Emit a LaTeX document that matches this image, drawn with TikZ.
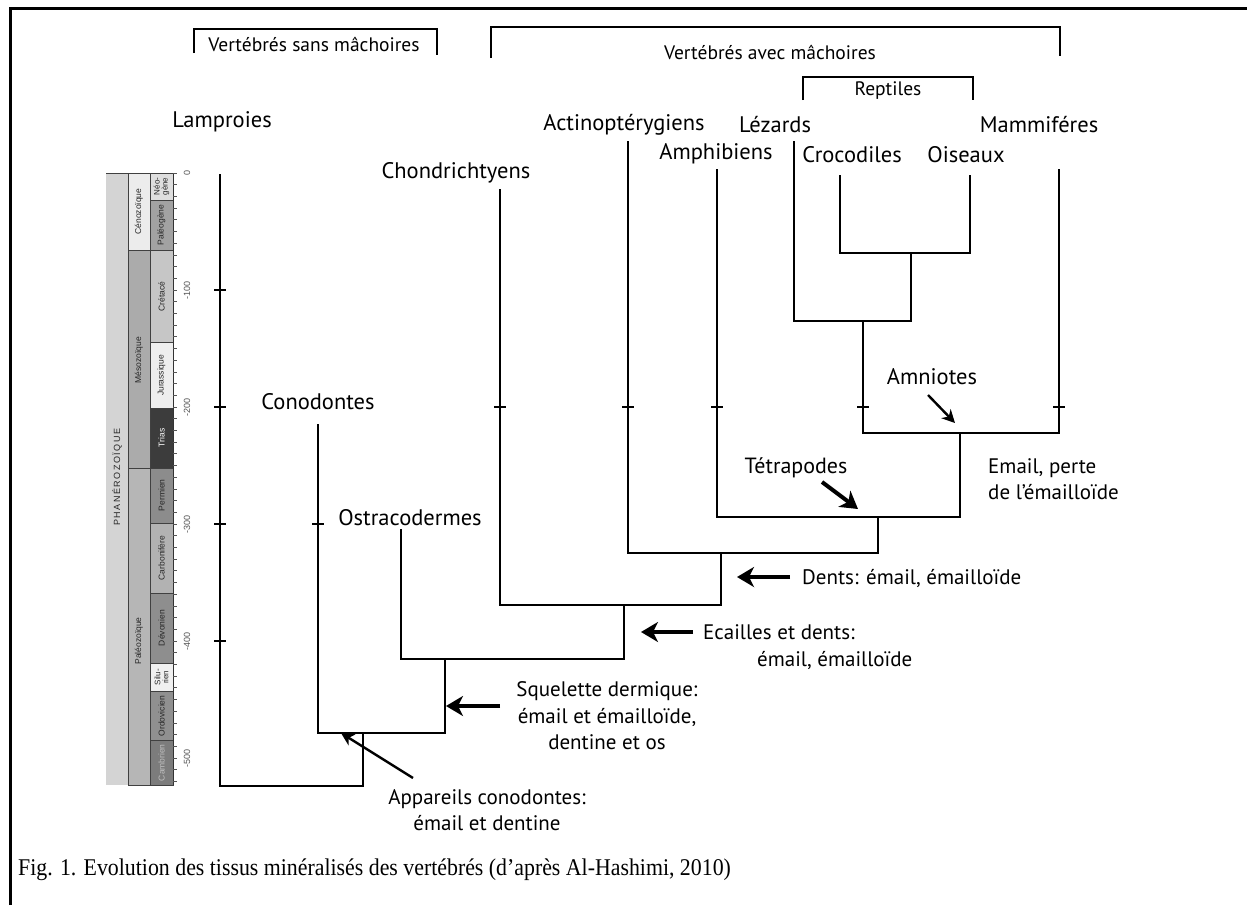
\documentclass[tikz,border=0pt]{standalone}
\usepackage{fontspec}
\setmainfont{PT Sans}
\newfontfamily\capfont{Liberation Serif}
\newfontfamily\smallsans{Liberation Sans}
\usetikzlibrary{arrows.meta}

\definecolor{cPhan}{HTML}{D4D4D4}
\definecolor{cCeno}{HTML}{ECECEC}
\definecolor{cMeso}{HTML}{ABABAB}
\definecolor{cPaleo}{HTML}{B6B6B6}
\definecolor{cNeo}{HTML}{DEDEDE}
\definecolor{cPaleog}{HTML}{A2A2A2}
\definecolor{cCret}{HTML}{C6C6C6}
\definecolor{cJura}{HTML}{EEEEEE}
\definecolor{cTrias}{HTML}{3C3C3C}
\definecolor{cPerm}{HTML}{8C8C8C}
\definecolor{cCarb}{HTML}{B2B2B2}
\definecolor{cDevo}{HTML}{8E8E8E}
\definecolor{cSilu}{HTML}{F0F0F0}
\definecolor{cOrdo}{HTML}{909090}
\definecolor{cCamb}{HTML}{7C7C7C}
\definecolor{cAxis}{HTML}{555555}

\begin{document}
\begin{tikzpicture}[x=1pt,y=-1pt,
  branch/.style={line width=1.6pt,line cap=rect,line join=miter},
  agetick/.style={line width=1.4pt},
  bracketline/.style={line width=2.2pt},
  taxon/.style={font=\fontsize{22.5}{24}\selectfont,inner sep=0pt},
  note/.style={font=\fontsize{21}{26.5}\selectfont,inner sep=0pt},
  grouplabel/.style={font=\fontsize{19.5}{22}\selectfont,inner sep=0pt,anchor=base},
  bigarrow/.style={line width=4pt,-{Stealth[length=17pt,width=20pt,inset=5pt]}},
  smallarrow/.style={line width=2.4pt,-{Stealth[length=13pt,width=13pt,inset=4pt]}},
  cell/.style={draw=black!75,line width=0.6pt},
  celltext/.style={font=\smallsans\fontsize{8.5}{9}\selectfont,rotate=90,inner sep=0pt,text=black!85,align=center},
  scalelabel/.style={font=\smallsans\fontsize{9}{10}\selectfont,rotate=90,inner sep=0pt,text=cAxis}]

\useasboundingbox (0,0) rectangle (1247,905);
\fill[white] (0,0) rectangle (1247,905);

% frame
\draw[line width=3pt] (10,905) -- (10,8) -- (1247,8);

% ---------- geological time scale (Ma along the axis) ----------
\begin{scope}[shift={(0,173)},y=-1.17pt]
  \fill[cPhan] (106,0) rectangle (128,523);
  \draw[line width=0.6pt,black!75] (106,0) -- (128,0);
  % eras
  \draw[cell,fill=cCeno]  (128,0)   rectangle (150,66);
  \draw[cell,fill=cMeso]  (128,66)  rectangle (150,252);
  \draw[cell,fill=cPaleo] (128,252) rectangle (150,523);
  % periods
  \draw[cell,fill=cNeo]    (150,0)   rectangle (173,23);
  \draw[cell,fill=cPaleog] (150,23)  rectangle (173,66);
  \draw[cell,fill=cCret]   (150,66)  rectangle (173,145);
  \draw[cell,fill=cJura]   (150,145) rectangle (173,201);
  \draw[cell,fill=cTrias]  (150,201) rectangle (173,252);
  \draw[cell,fill=cPerm]   (150,252) rectangle (173,299);
  \draw[cell,fill=cCarb]   (150,299) rectangle (173,359);
  \draw[cell,fill=cDevo]   (150,359) rectangle (173,419);
  \draw[cell,fill=cSilu]   (150,419) rectangle (173,443);
  \draw[cell,fill=cOrdo]   (150,443) rectangle (173,485);
  \draw[cell,fill=cCamb]   (150,485) rectangle (173,523);
  % texts
  \node[celltext,font=\smallsans\fontsize{9}{10}\selectfont] (phan) at (117,260) {P\,H\,A\,N\,É\,R\,O\,Z\,O\,Ï\,Q\,U\,E};
  \node[celltext] (ceno) at (139,33) {Cénozoïque};
  \node[celltext] (meso) at (139,160) {Mésozoïque};
  \node[celltext] (paleo) at (139,400) {Paléozoïque};
  \node[celltext,font=\smallsans\fontsize{8}{8}\selectfont] (neo) at (161.5,11.5) {Néo-\\gène};
  \node[celltext] (paleog) at (161.5,44.5) {Paléogène};
  \node[celltext] (cret) at (161.5,105.5) {Crétacé};
  \node[celltext] (jura) at (161.5,173) {Jurassique};
  \node[celltext,text=white] (trias) at (161.5,226.5) {Trias};
  \node[celltext] (perm) at (161.5,275.5) {Permien};
  \node[celltext] (carb) at (161.5,329) {Carbonifère};
  \node[celltext] (devo) at (161.5,389) {Dévonien};
  \node[celltext,font=\smallsans\fontsize{8}{8}\selectfont] (silu) at (161.5,431) {Silu-\\rien};
  \node[celltext] (ordo) at (161.5,464) {Ordovicien};
  \node[celltext,text=black!25] (camb) at (161.5,504) {Cambrien};
  % axis with ticks every 10 Ma
  \draw[line width=0.8pt,black!80] (173,0) -- (173,523);
  \foreach \t in {0,10,...,520} \draw[line width=0.7pt,cAxis] (173,\t) -- (177,\t);
  \foreach \t in {0,100,...,500} \node[scalelabel] (age\t) at (187,\t) {\ifnum\t=0 0\else -\t\fi};
\end{scope}

% ---------- group brackets ----------
\draw[bracketline] (194,53) -- (194,29) -- (437,29) -- (437,55);
\node[grouplabel] (sans) at (314,51) {Vertébrés sans mâchoires};
\draw[bracketline] (491,58) -- (491,27) -- (1060,27) -- (1060,56);
\node[grouplabel] (avec) at (770,59) {Vertébrés avec mâchoires};
\draw[bracketline] (803,100) -- (803,77) -- (973,77) -- (973,100);
\node[grouplabel] (rept) at (888,95) {Reptiles};

% ---------- taxa ----------
\node[taxon] (lamp)  at (222,122) {Lamproies};
\node[taxon] (acti)  at (624,125) {Actinoptérygiens};
\node[taxon] (leza)  at (775,125) {Lézards};
\node[taxon] (mamm)  at (1039,125) {Mammiféres};
\node[taxon] (amph)  at (716,154) {Amphibiens};
\node[taxon] (croc)  at (852,155) {Crocodiles};
\node[taxon] (oise)  at (966,155) {Oiseaux};
\node[taxon] (chon)  at (456,173) {Chondrichtyens};
\node[taxon] (cono)  at (318,402) {Conodontes};
\node[taxon] (ostr)  at (410,518) {Ostracodermes};

% branch tips
\coordinate (tLamp) at (220,175);
\coordinate (tCono) at (318,425);
\coordinate (tOstr) at (401,530);
\coordinate (tChon) at (500,190);
\coordinate (tActi) at (628,142);
\coordinate (tAmph) at (717,170);
\coordinate (tLeza) at (794,142);
\coordinate (tCroc) at (840,176);
\coordinate (tOise) at (970,176);
\coordinate (tMamm) at (1059,170);

% branching points
\coordinate (n1) at (911,253);
\coordinate (n2) at (863,321);
\coordinate (n3) at (960,433);
\coordinate (n4) at (878,517);
\coordinate (n5) at (721,553);
\coordinate (n6) at (624,605);
\coordinate (n7) at (445,659);
\coordinate (n8) at (363,733);
\coordinate (root) at (363,786);

% ---------- tree ----------
\draw[branch] (tCroc) |- (n1);
\draw[branch] (tOise) |- (n1);
\draw[branch] (n1) |- (n2);
\draw[branch] (tLeza) |- (n2);
\draw[branch] (n2) |- (n3);
\draw[branch] (tMamm) |- (n3);
\draw[branch] (n3) |- (n4);
\draw[branch] (tAmph) |- (n4);
\draw[branch] (n4) |- (n5);
\draw[branch] (tActi) |- (n5);
\draw[branch] (n5) |- (n6);
\draw[branch] (tChon) |- (n6);
\draw[branch] (n6) |- (n7);
\draw[branch] (tOstr) |- (n7);
\draw[branch] (n7) |- (n8);
\draw[branch] (tCono) |- (n8);
\draw[branch] (n8) -- (root);
\draw[branch] (tLamp) |- (root);

% age ticks on the branches
\foreach \x in {220,500,628,717,863,1059} \draw[agetick] (\x-6,407) -- (\x+6,407);
\draw[agetick] (214,290) -- (226,290);
\draw[agetick] (214,524) -- (226,524);
\draw[agetick] (312,524) -- (324,524);
\draw[agetick] (214,641) -- (226,641);

% ---------- annotations ----------
\node[note,font=\fontsize{22.5}{26}\selectfont] (amni) at (932,377) {Amniotes};
\coordinate (amniTip) at (955,423);
\draw[smallarrow] (928,395) -- (amniTip);

\node[note,font=\fontsize{22}{26}\selectfont] (tetr) at (796,468) {Tétrapodes};
\coordinate (tetrTip) at (858,509);
\draw[bigarrow] (822,482) -- (tetrTip);

\node[note,anchor=west,align=left] (emai) at (988,479) {Email, perte\\de l’émailloïde};

\node[note,anchor=west] (dent) at (802,578) {Dents: émail, émailloïde};
\coordinate (dentTip) at (737,577);
\draw[bigarrow] (790,577) -- (dentTip);

\node[note,anchor=west] (ecai) at (703,632) {Ecailles et dents:};
\node[note,anchor=west] (ecai2) at (757,660) {émail, émailloïde};
\coordinate (ecaiTip) at (641,632);
\draw[bigarrow] (693,632) -- (ecaiTip);

\node[note,align=center] (sque) at (607,716) {Squelette dermique:\\émail et émailloïde,\\dentine et os};
\coordinate (squeTip) at (446,706);
\draw[bigarrow] (500,706) -- (squeTip);

\node[note,align=center] (appa) at (487,810) {Appareils conodontes:\\émail et dentine};
\coordinate (appaTip) at (341,733);
\draw[smallarrow] (413,778) -- (appaTip);

% ---------- caption ----------
\node[anchor=west,inner sep=0pt,font=\capfont\fontsize{24}{26}\selectfont] (capt) at (18,870)
  {\scalebox{0.91}[1]{Fig. 1. Evolution des tissus minéralisés des vertébrés (d’après Al-Hashimi, 2010)}};

\end{tikzpicture}
\end{document}
